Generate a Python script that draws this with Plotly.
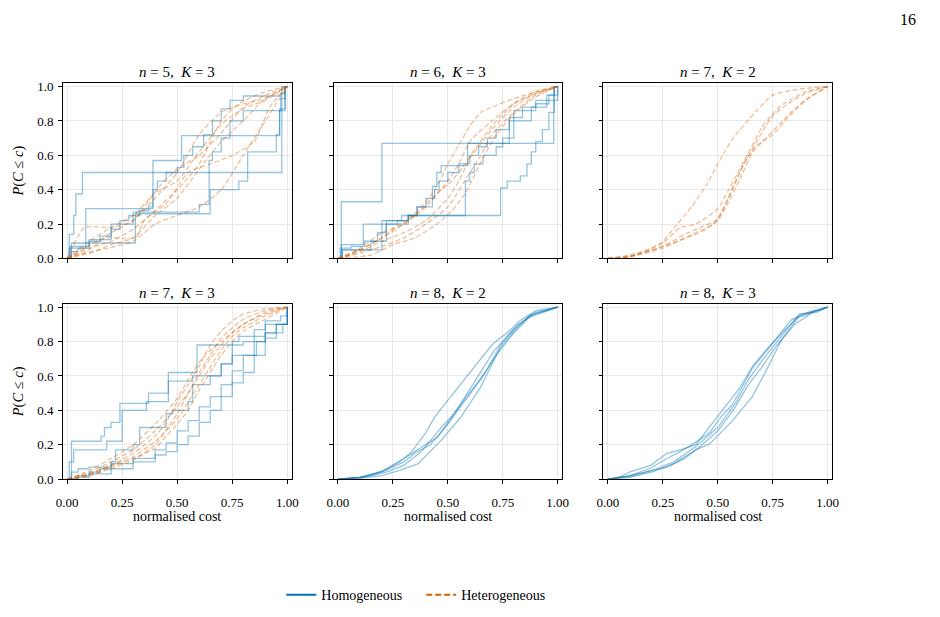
import plotly.graph_objects as go

# ---------------- data ----------------
TITLES = [("5", "3"), ("6", "3"), ("7", "2"), ("7", "3"), ("8", "2"), ("8", "3")]
X_TICKS = [0, 0.25, 0.5, 0.75, 1.0]
X_TICK_LABELS = ["0.00", "0.25", "0.50", "0.75", "1.00"]
Y_TICKS = [0, 0.2, 0.4, 0.6, 0.8, 1.0]
Y_TICK_LABELS = ["0.0", "0.2", "0.4", "0.6", "0.8", "1.0"]
SERIES_NAMES = ["Homogeneous", "Heterogeneous"]

# panel 1: n=5, K=3  (homogeneous = step curves)
P1_HOM_X = [
    [0, 0.01, 0.03, 0.04, 0.07, 0.975, 1.0],
    [0, 0.01, 0.085, 0.39, 0.52, 0.965, 0.99, 1.0],
    [0, 0.02, 0.31, 0.65, 0.78, 0.82, 0.95, 0.965, 0.99, 1.0],
    [0, 0.015, 0.1, 0.2, 0.3, 0.6, 0.645, 0.66, 0.7, 0.74, 0.8, 0.97, 0.99, 1.0],
    [0, 0.02, 0.05, 0.1, 0.15, 0.2, 0.24, 0.28, 0.33, 0.37, 0.39, 0.41, 0.45, 0.5,
     0.53, 0.57, 0.62, 0.66, 0.7, 0.74, 0.8, 0.97, 0.99, 1.0],
]
P1_HOM_Y = [
    [0, 0.14, 0.25, 0.375, 0.5, 1.0, 1.0],
    [0, 0.06, 0.29, 0.57, 0.715, 0.86, 1.0, 1.0],
    [0, 0.09, 0.26, 0.40, 0.45, 0.62, 0.72, 0.87, 1.0, 1.0],
    [0, 0.07, 0.11, 0.2, 0.27, 0.315, 0.57, 0.62, 0.7, 0.8, 0.86, 0.93, 1.0, 1.0],
    [0, 0.04, 0.06, 0.1, 0.13, 0.17, 0.22, 0.25, 0.28, 0.3, 0.4, 0.45, 0.5, 0.53,
     0.6, 0.65, 0.72, 0.8, 0.87, 0.92, 0.945, 0.96, 1.0, 1.0],
]
P1_HET_X = [
    [0, 0.1, 0.2, 0.3, 0.4, 0.5, 0.6, 0.7, 0.8, 0.9, 1.0],
    [0, 0.1, 0.2, 0.3, 0.4, 0.5, 0.6, 0.7, 0.8, 0.9, 1.0],
    [0, 0.08, 0.2, 0.3, 0.4, 0.5, 0.6, 0.7, 0.78, 0.9, 1.0],
    [0, 0.1, 0.2, 0.3, 0.4, 0.5, 0.6, 0.7, 0.8, 0.9, 1.0],
    [0, 0.08, 0.17, 0.31, 0.35, 0.45, 0.55, 0.65, 0.75, 0.85, 0.92, 1.0],
    [0, 0.05, 0.15, 0.3, 0.4, 0.5, 0.6, 0.7, 0.8, 0.9, 1.0],
    [0, 0.08, 0.2, 0.3, 0.42, 0.5, 0.6, 0.7, 0.8, 0.9, 1.0],
]
P1_HET_Y = [
    [0, 0.05, 0.15, 0.22, 0.35, 0.5, 0.72, 0.85, 0.9, 0.93, 1.0],
    [0, 0.1, 0.18, 0.25, 0.38, 0.45, 0.62, 0.78, 0.87, 0.92, 1.0],
    [0, 0.05, 0.1, 0.17, 0.28, 0.4, 0.55, 0.8, 0.9, 0.97, 1.0],
    [0, 0.03, 0.08, 0.12, 0.25, 0.35, 0.52, 0.68, 0.8, 0.93, 1.0],
    [0, 0.06, 0.12, 0.12, 0.22, 0.32, 0.5, 0.55, 0.6, 0.68, 0.88, 1.0],
    [0, 0.02, 0.05, 0.1, 0.2, 0.25, 0.3, 0.4, 0.6, 0.8, 1.0],
    [0, 0.18, 0.18, 0.22, 0.42, 0.52, 0.6, 0.73, 0.88, 0.95, 1.0],
]

# panel 2: n=6, K=3
P2_HOM_X = [
    [0, 0.015, 0.2, 0.982, 1.0],
    [0, 0.015, 0.115, 0.2, 0.29, 0.36, 0.43, 0.45, 0.47, 0.59, 0.78, 0.8, 0.9, 0.96, 0.985, 1.0],
    [0, 0.01, 0.06, 0.12, 0.18, 0.22, 0.27, 0.32, 0.36, 0.4, 0.44, 0.46, 0.5, 0.55,
     0.6, 0.64, 0.68, 0.72, 0.78, 0.84, 0.9, 0.95, 1.0],
    [0, 0.02, 0.2, 0.32, 0.58, 0.6, 0.62, 0.66, 0.72, 0.75, 0.8, 0.88, 0.95, 1.0],
    [0, 0.02, 0.15, 0.22, 0.32, 0.74, 0.77, 0.83, 0.86, 0.88, 0.9, 0.93, 0.96, 0.985, 1.0],
]
P2_HOM_Y = [
    [0, 0.33, 0.67, 1.0, 1.0],
    [0, 0.08, 0.2, 0.22, 0.25, 0.3, 0.42, 0.5, 0.54, 0.67, 0.8, 0.86, 0.9, 0.95, 1.0, 1.0],
    [0, 0.06, 0.07, 0.1, 0.15, 0.2, 0.22, 0.25, 0.3, 0.35, 0.4, 0.45, 0.5, 0.55,
     0.6, 0.65, 0.7, 0.75, 0.82, 0.88, 0.92, 0.95, 1.0],
    [0, 0.05, 0.2, 0.25, 0.45, 0.5, 0.55, 0.6, 0.65, 0.7, 0.8, 0.88, 0.92, 1.0],
    [0, 0.05, 0.1, 0.22, 0.25, 0.41, 0.45, 0.48, 0.55, 0.62, 0.68, 0.75, 0.85, 1.0, 1.0],
]
P2_HET_X = [
    [0, 0.05, 0.1, 0.2, 0.3, 0.4, 0.45, 0.5, 0.55, 0.6, 0.65, 0.7, 0.8, 0.9, 1.0],
    [0, 0.1, 0.2, 0.3, 0.4, 0.5, 0.55, 0.6, 0.7, 0.8, 0.9, 1.0],
    [0, 0.1, 0.2, 0.3, 0.4, 0.5, 0.55, 0.6, 0.7, 0.8, 0.9, 1.0],
    [0, 0.1, 0.2, 0.3, 0.4, 0.5, 0.6, 0.65, 0.7, 0.8, 0.9, 1.0],
    [0, 0.1, 0.2, 0.28, 0.35, 0.45, 0.5, 0.55, 0.62, 0.7, 0.8, 0.9, 1.0],
    [0, 0.15, 0.25, 0.35, 0.45, 0.52, 0.58, 0.65, 0.72, 0.8, 0.9, 1.0],
]
P2_HET_Y = [
    [0, 0.02, 0.05, 0.12, 0.2, 0.33, 0.42, 0.55, 0.66, 0.77, 0.85, 0.88, 0.93, 0.97, 1.0],
    [0, 0.06, 0.15, 0.2, 0.3, 0.45, 0.55, 0.68, 0.8, 0.9, 0.96, 1.0],
    [0, 0.04, 0.1, 0.15, 0.22, 0.35, 0.45, 0.58, 0.75, 0.88, 0.96, 1.0],
    [0, 0.03, 0.07, 0.12, 0.2, 0.3, 0.5, 0.6, 0.72, 0.85, 0.95, 1.0],
    [0, 0.05, 0.12, 0.2, 0.25, 0.38, 0.43, 0.5, 0.63, 0.77, 0.9, 0.97, 1.0],
    [0, 0.02, 0.08, 0.12, 0.2, 0.28, 0.38, 0.56, 0.72, 0.84, 0.94, 1.0],
]

# panel 3: n=7, K=2 (heterogeneous only)
P3_HET_X = [
    [0, 0.1, 0.2, 0.25, 0.31, 0.38, 0.45, 0.5, 0.57, 0.67, 0.75, 0.87, 1.0],
    [0, 0.1, 0.25, 0.33, 0.4, 0.5, 0.55, 0.6, 0.65, 0.7, 0.75, 0.8, 0.9, 1.0],
    [0, 0.12, 0.25, 0.35, 0.42, 0.5, 0.55, 0.6, 0.65, 0.7, 0.75, 0.82, 0.9, 1.0],
    [0, 0.1, 0.25, 0.35, 0.45, 0.5, 0.55, 0.6, 0.66, 0.72, 0.78, 0.85, 0.92, 1.0],
    [0, 0.1, 0.25, 0.4, 0.48, 0.53, 0.58, 0.63, 0.68, 0.75, 0.82, 0.9, 1.0],
]
P3_HET_Y = [
    [0, 0.02, 0.06, 0.1, 0.19, 0.3, 0.43, 0.55, 0.7, 0.85, 0.95, 0.985, 1.0],
    [0, 0.01, 0.09, 0.18, 0.2, 0.29, 0.4, 0.52, 0.64, 0.76, 0.84, 0.9, 0.97, 1.0],
    [0, 0.02, 0.07, 0.14, 0.18, 0.23, 0.36, 0.5, 0.62, 0.73, 0.83, 0.9, 0.96, 1.0],
    [0, 0.01, 0.06, 0.12, 0.18, 0.22, 0.33, 0.46, 0.62, 0.7, 0.78, 0.87, 0.94, 1.0],
    [0, 0.01, 0.07, 0.14, 0.2, 0.3, 0.44, 0.58, 0.66, 0.72, 0.82, 0.92, 1.0],
]

# panel 4: n=7, K=3
P4_HOM_X = [
    [0, 0.02, 0.155, 0.17, 0.2, 0.24, 0.37, 0.46, 0.59, 0.75, 0.78, 0.85, 0.9, 0.97, 1.0],
    [0, 0.01, 0.03, 0.18, 0.25, 0.36, 0.46, 0.57, 0.7, 0.75, 0.86, 0.9, 0.98, 1.0],
    [0, 0.02, 0.05, 0.1, 0.2, 0.22, 0.3, 0.33, 0.45, 0.48, 0.55, 0.57, 0.65, 0.7,
     0.75, 0.8, 0.85, 0.9, 0.98, 1.0],
    [0, 0.05, 0.1, 0.15, 0.2, 0.3, 0.4, 0.45, 0.5, 0.55, 0.6, 0.65, 0.7, 0.75, 0.8,
     0.85, 0.9, 0.95, 1.0],
    [0, 0.05, 0.1, 0.2, 0.3, 0.4, 0.45, 0.5, 0.55, 0.6, 0.65, 0.7, 0.75, 0.8, 0.85,
     0.9, 0.95, 1.0],
]
P4_HOM_Y = [
    [0, 0.22, 0.25, 0.3, 0.33, 0.44, 0.5, 0.62, 0.78, 0.8, 0.83, 0.87, 0.92, 0.95, 1.0],
    [0, 0.1, 0.17, 0.22, 0.4, 0.45, 0.57, 0.6, 0.67, 0.72, 0.8, 0.85, 0.9, 1.0],
    [0, 0.04, 0.06, 0.07, 0.1, 0.17, 0.2, 0.3, 0.38, 0.4, 0.45, 0.55, 0.6, 0.67,
     0.78, 0.8, 0.83, 0.9, 0.9, 1.0],
    [0, 0.02, 0.04, 0.06, 0.09, 0.12, 0.17, 0.21, 0.28, 0.34, 0.42, 0.48, 0.55, 0.63,
     0.72, 0.8, 0.85, 0.9, 1.0],
    [0, 0.01, 0.03, 0.06, 0.1, 0.14, 0.16, 0.2, 0.25, 0.33, 0.4, 0.48, 0.56, 0.62,
     0.72, 0.82, 0.9, 1.0],
]
P4_HET_X = [
    [0, 0.05, 0.1, 0.2, 0.3, 0.4, 0.45, 0.5, 0.55, 0.6, 0.65, 0.7, 0.75, 0.8, 0.9, 1.0],
    [0, 0.1, 0.2, 0.3, 0.4, 0.5, 0.55, 0.6, 0.65, 0.7, 0.75, 0.8, 0.9, 1.0],
    [0, 0.1, 0.2, 0.3, 0.4, 0.5, 0.55, 0.6, 0.65, 0.7, 0.8, 0.9, 1.0],
    [0, 0.1, 0.2, 0.3, 0.4, 0.5, 0.55, 0.6, 0.65, 0.7, 0.75, 0.8, 0.9, 1.0],
    [0, 0.1, 0.2, 0.3, 0.4, 0.5, 0.55, 0.6, 0.65, 0.7, 0.75, 0.8, 0.9, 1.0],
    [0, 0.1, 0.2, 0.3, 0.4, 0.45, 0.5, 0.55, 0.6, 0.65, 0.7, 0.75, 0.8, 0.9, 1.0],
]
P4_HET_Y = [
    [0, 0.01, 0.03, 0.08, 0.15, 0.25, 0.33, 0.45, 0.55, 0.66, 0.78, 0.86, 0.92, 0.96, 0.99, 1.0],
    [0, 0.04, 0.1, 0.17, 0.28, 0.42, 0.5, 0.6, 0.7, 0.78, 0.85, 0.9, 0.97, 1.0],
    [0, 0.05, 0.12, 0.2, 0.32, 0.47, 0.58, 0.68, 0.75, 0.8, 0.9, 0.96, 1.0],
    [0, 0.03, 0.08, 0.13, 0.22, 0.35, 0.45, 0.55, 0.65, 0.75, 0.83, 0.88, 0.95, 1.0],
    [0, 0.02, 0.06, 0.11, 0.2, 0.38, 0.5, 0.62, 0.72, 0.82, 0.88, 0.93, 0.98, 1.0],
    [0, 0.02, 0.07, 0.12, 0.18, 0.25, 0.32, 0.4, 0.52, 0.62, 0.72, 0.8, 0.86, 0.93, 1.0],
]

# panel 5: n=8, K=2 (homogeneous only, smooth)
P5_HOM_X = [
    [0, 0.1, 0.15, 0.216, 0.28, 0.335, 0.4, 0.44, 0.513, 0.6, 0.65, 0.7, 0.737, 0.77, 0.826, 0.9, 1.0],
    [0, 0.1, 0.2, 0.25, 0.3, 0.35, 0.454, 0.528, 0.58, 0.632, 0.707, 0.796, 0.885, 1.0],
    [0, 0.1, 0.2, 0.28, 0.365, 0.469, 0.558, 0.647, 0.737, 0.8, 0.87, 1.0],
    [0, 0.1, 0.2, 0.3, 0.35, 0.42, 0.5, 0.58, 0.65, 0.72, 0.8, 0.87, 1.0],
    [0, 0.12, 0.22, 0.3, 0.38, 0.45, 0.52, 0.6, 0.67, 0.74, 0.82, 0.9, 1.0],
]
P5_HOM_Y = [
    [0, 0.01, 0.025, 0.053, 0.1, 0.158, 0.27, 0.36, 0.48, 0.62, 0.7, 0.78, 0.82, 0.85, 0.92, 0.98, 1.0],
    [0, 0.01, 0.045, 0.08, 0.12, 0.16, 0.244, 0.377, 0.48, 0.587, 0.74, 0.87, 0.958, 1.0],
    [0, 0.005, 0.02, 0.05, 0.09, 0.225, 0.358, 0.53, 0.76, 0.86, 0.95, 1.0],
    [0, 0.01, 0.04, 0.1, 0.15, 0.2, 0.32, 0.46, 0.58, 0.72, 0.85, 0.94, 1.0],
    [0, 0.01, 0.04, 0.08, 0.16, 0.27, 0.37, 0.5, 0.62, 0.78, 0.9, 0.97, 1.0],
]

# panel 6: n=8, K=3 (homogeneous only, smooth)
P6_HOM_X = [
    [0, 0.1, 0.194, 0.269, 0.33, 0.388, 0.463, 0.52, 0.567, 0.657, 0.746, 0.836, 0.925, 1.0],
    [0, 0.1, 0.2, 0.3, 0.4, 0.463, 0.567, 0.657, 0.716, 0.79, 0.866, 0.95, 1.0],
    [0, 0.1, 0.27, 0.35, 0.417, 0.5, 0.57, 0.64, 0.7, 0.77, 0.85, 0.93, 1.0],
    [0, 0.05, 0.104, 0.194, 0.269, 0.33, 0.4, 0.46, 0.53, 0.6, 0.66, 0.72, 0.8, 0.88, 0.95, 1.0],
    [0, 0.1, 0.2, 0.3, 0.4, 0.5, 0.58, 0.64, 0.72, 0.8, 0.87, 0.95, 1.0],
]
P6_HOM_Y = [
    [0, 0.02, 0.063, 0.12, 0.16, 0.205, 0.27, 0.37, 0.434, 0.643, 0.786, 0.928, 0.975, 1.0],
    [0, 0.01, 0.04, 0.09, 0.17, 0.205, 0.34, 0.48, 0.62, 0.81, 0.94, 0.98, 1.0],
    [0, 0.02, 0.07, 0.12, 0.186, 0.28, 0.4, 0.55, 0.65, 0.78, 0.9, 0.97, 1.0],
    [0, 0.01, 0.044, 0.08, 0.15, 0.17, 0.2, 0.3, 0.42, 0.53, 0.66, 0.75, 0.86, 0.96, 0.98, 1.0],
    [0, 0.015, 0.05, 0.1, 0.19, 0.3, 0.44, 0.58, 0.72, 0.85, 0.96, 0.97, 1.0],
]

PANEL_HOM = [(P1_HOM_X, P1_HOM_Y), (P2_HOM_X, P2_HOM_Y), ([], []),
             (P4_HOM_X, P4_HOM_Y), (P5_HOM_X, P5_HOM_Y), (P6_HOM_X, P6_HOM_Y)]
PANEL_HET = [(P1_HET_X, P1_HET_Y), (P2_HET_X, P2_HET_Y), (P3_HET_X, P3_HET_Y),
             (P4_HET_X, P4_HET_Y), ([], []), ([], [])]
STEP_PANELS = {0, 1, 3}

# ---------------- style / layout ----------------
W, H = 940, 617
BLUE = "#0072B2"
ORANGE = "#D55E00"
BLUE_A = "rgba(0,114,178,0.42)"
ORANGE_A = "rgba(213,94,0,0.40)"
FONT = "Liberation Serif"

COL_PX = [(56.5, 289.0), (331.5, 563.5), (605.5, 837.5)]
ROW_PX = [(80.7, 259.5), (305.7, 484.5)]

fig = go.Figure()

for i in range(6):
    r, c = divmod(i, 3)
    ax = "" if i == 0 else str(i + 1)
    hx, hy = PANEL_HOM[i]
    ex, ey = PANEL_HET[i]
    shape = "hv" if i in STEP_PANELS else "linear"
    for xs, ys in zip(hx, hy):
        fig.add_trace(go.Scatter(x=xs, y=ys, mode="lines", xaxis="x" + ax, yaxis="y" + ax,
                                 line=dict(color=BLUE_A, width=1.3, shape=shape),
                                 showlegend=False, hoverinfo="skip"))
    for xs, ys in zip(ex, ey):
        fig.add_trace(go.Scatter(x=xs, y=ys, mode="lines", xaxis="x" + ax, yaxis="y" + ax,
                                 line=dict(color=ORANGE_A, width=1.3, dash="5px,2.5px",
                                           shape="spline", smoothing=0.6),
                                 showlegend=False, hoverinfo="skip"))

    x0, x1 = COL_PX[c]
    y0, y1 = ROW_PX[r]
    common = dict(showline=True, linecolor="black", linewidth=1, mirror=True,
                  ticks="outside", ticklen=3.5, tickwidth=1, tickcolor="black",
                  showgrid=True, gridcolor="#e8e8e8", gridwidth=1, zeroline=False,
                  tickfont=dict(family=FONT, size=13, color="black"))
    fig.update_layout(**{
        "xaxis" + ax: dict(domain=[x0 / W, x1 / W], range=[-0.02, 1.02],
                           anchor="y" + ax, tickvals=X_TICKS, ticktext=X_TICK_LABELS,
                           showticklabels=(r == 1), ticklabelstandoff=8, **common),
        "yaxis" + ax: dict(domain=[1 - y1 / H, 1 - y0 / H], range=[0, 1.02],
                           anchor="x" + ax, tickvals=Y_TICKS, ticktext=Y_TICK_LABELS,
                           showticklabels=(c == 0), ticklabelstandoff=2, **common),
    })
    n, k = TITLES[i]
    fig.add_annotation(text=f"<i>n</i> = {n},  <i>K</i> = {k}", xref="paper", yref="paper",
                       x=(x0 + x1) / 2 / W, y=1 - y0 / H, xanchor="center", yanchor="bottom",
                       yshift=1, showarrow=False, font=dict(family=FONT, size=15, color="black"))
    if c == 0:
        fig.add_annotation(text="<i>P</i>(<i>C</i> ≤ <i>c</i>)", xref="paper", yref="paper",
                           x=12 / W, y=1 - (y0 + y1) / 2 / H, xanchor="center", yanchor="middle",
                           textangle=-90, showarrow=False,
                           font=dict(family=FONT, size=14.5, color="black"))
    if r == 1:
        fig.add_annotation(text="normalised cost", xref="paper", yref="paper",
                           x=(x0 + x1) / 2 / W, y=1 - 523 / H, xanchor="center", yanchor="middle",
                           showarrow=False, font=dict(family=FONT, size=14, color="black"))

# legend entries
fig.add_trace(go.Scatter(x=[None], y=[None], mode="lines", name=SERIES_NAMES[0] + "    ",
                         line=dict(color=BLUE, width=2)))
fig.add_trace(go.Scatter(x=[None], y=[None], mode="lines", name=SERIES_NAMES[1],
                         line=dict(color=ORANGE, width=2, dash="6px,3px")))

fig.add_annotation(text="16", xref="paper", yref="paper", x=915 / W, y=1 - 16 / H,
                   xanchor="center", yanchor="middle", showarrow=False,
                   font=dict(family=FONT, size=16, color="black"))

fig.update_layout(
    width=W, height=H, margin=dict(l=0, r=0, t=0, b=0),
    paper_bgcolor="white", plot_bgcolor="white",
    legend=dict(orientation="h", x=415 / W, xanchor="center", y=1 - 603 / H, yanchor="middle",
                font=dict(family=FONT, size=14, color="black"), itemwidth=30,
                bgcolor="rgba(0,0,0,0)"),
)

fig.write_html("out.html")
